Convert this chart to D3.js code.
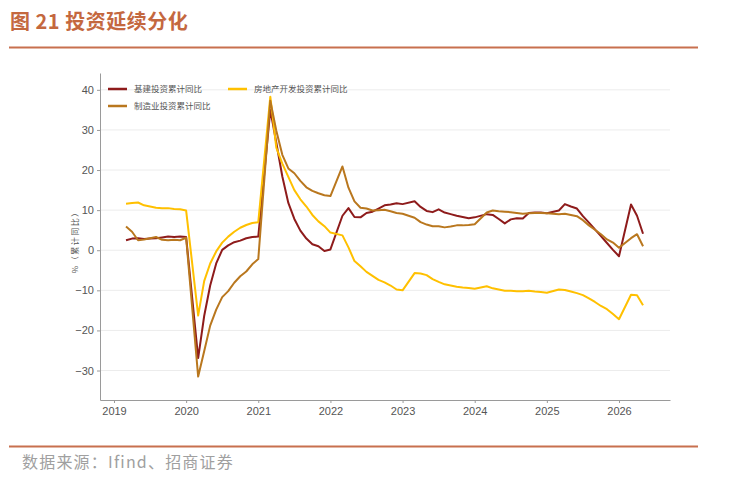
<!DOCTYPE html>
<html>
<head>
<meta charset="utf-8">
<script src="https://cdn.jsdelivr.net/npm/d3@7"></script>
<style>
  html, body { margin: 0; padding: 0; background: #fff; }
  svg { display: block; }
</style>
</head>
<body>
<div id="chart"></div>
<script>
// Monthly cumulative YoY (%), Jan-Feb reported together as Feb
const years = [2019, 2020, 2021, 2022, 2023, 2024, 2025, 2026];
const monthsByYear = [
  [2,3,4,5,6,7,8,9,10,11,12],
  [2,3,4,5,6,7,8,9,10,11,12],
  [2,3,4,5,6,7,8,9,10,11,12],
  [2,3,4,5,6,7,8,9,10,11,12],
  [2,3,4,5,6,7,8,9,10,11,12],
  [2,3,4,5,6,7,8,9,10,11,12],
  [2,3,4,5,6,7,8,9,10,11,12],
  [2,3,4]
];

// 基建投资累计同比
const infraValues = [
  2.5, 2.9, 3.0, 2.8, 2.9, 3.0, 3.2, 3.4, 3.3, 3.4, 3.3,
  -26.9, -16.4, -8.8, -3.3, 0.1, 1.2, 2.0, 2.4, 3.0, 3.3, 3.4,
  35.0, 26.8, 18.4, 11.8, 7.8, 4.9, 2.9, 1.5, 1.0, -0.2, 0.2,
  8.6, 10.5, 8.3, 8.2, 9.3, 9.6, 10.4, 11.2, 11.4, 11.7, 11.5,
  12.2, 10.8, 9.8, 9.5, 10.2, 9.4, 9.0, 8.6, 8.3, 8.0, 8.2,
  9.0, 8.8, 7.8, 6.7, 7.7, 8.0, 7.9, 9.3, 9.4, 9.4, 9.2,
  9.9, 11.5, 10.9, 10.4, 8.5, 6.9, 5.2, 3.5, 1.8, 0.1, -1.5,
  11.4, 8.6, 4.1
];

// 房地产开发投资累计同比
const estateValues = [
  11.6, 11.8, 11.9, 11.2, 10.9, 10.6, 10.5, 10.5, 10.3, 10.2, 9.9,
  -16.3, -7.7, -3.3, -0.3, 1.9, 3.4, 4.6, 5.6, 6.3, 6.8, 7.0,
  38.3, 25.6, 21.6, 18.3, 15.0, 12.7, 10.9, 8.8, 7.2, 6.0, 4.4,
  3.7, 0.7, -2.7, -4.0, -5.4, -6.4, -7.4, -8.0, -8.8, -9.8, -10.0,
  -5.7, -5.8, -6.2, -7.2, -7.9, -8.5, -8.8, -9.1, -9.3, -9.4, -9.6,
  -9.0, -9.5, -9.8, -10.1, -10.1, -10.2, -10.2, -10.1, -10.3, -10.4, -10.6,
  -9.8, -9.9, -10.3, -10.7, -11.2, -12.0, -12.9, -13.9, -14.7, -15.9, -17.2,
  -11.1, -11.2, -13.7
];

// 制造业投资累计同比
const mfgValues = [
  5.9, 4.6, 2.5, 2.7, 3.0, 3.3, 2.6, 2.5, 2.6, 2.5, 3.1,
  -31.5, -25.2, -18.8, -14.8, -11.7, -10.2, -8.1, -6.5, -5.3, -3.5, -2.2,
  37.3, 29.8, 23.8, 20.4, 19.2, 17.3, 15.7, 14.8, 14.2, 13.7, 13.5,
  20.9, 15.6, 12.2, 10.6, 10.4, 9.9, 10.0, 10.1, 9.7, 9.3, 9.1,
  8.1, 7.0, 6.4, 6.0, 6.0, 5.7, 5.9, 6.2, 6.2, 6.3, 6.5,
  9.4, 9.9, 9.7, 9.6, 9.5, 9.3, 9.1, 9.2, 9.3, 9.3, 9.2,
  9.0, 9.1, 8.8, 8.5, 7.5, 6.2, 5.1, 4.0, 2.7, 1.9, 0.6,
  3.0, 4.0, 1.0
];

const yTicks = [-30, -20, -10, 0, 10, 20, 30, 40];
const xTicks = [2019, 2020, 2021, 2022, 2023, 2024, 2025, 2026];

// month-end position in decimal years
const dates = [];
years.forEach((y, i) => monthsByYear[i].forEach(m => dates.push(y + m / 12)));

const series = [
  { name: '基建投资累计同比', values: infraValues, color: '#8E1B1B' },
  { name: '房地产开发投资累计同比', values: estateValues, color: '#FFC000' },
  { name: '制造业投资累计同比', values: mfgValues, color: '#B9771E' }
];

const width = 730;
const height = 478;
const plot = { left: 100, right: 670, top: 73, bottom: 400 };

const cjk = '"Noto Sans CJK SC", "Noto Sans", sans-serif';
const num = '"Liberation Sans Narrow", "Liberation Sans", Arial, sans-serif';

const svg = d3.select('#chart')
  .append('svg')
  .attr('width', width)
  .attr('height', height);

// Header
svg.append('text')
  .attr('x', 10)
  .attr('y', 29)
  .style('font-family', cjk)
  .style('font-size', '20px')
  .style('font-weight', 'bold')
  .style('fill', '#C4683F')
  .style('letter-spacing', '0.5px')
  .text('图 21 投资延续分化');

svg.append('line')
  .attr('x1', 9).attr('x2', 698)
  .attr('y1', 47.5).attr('y2', 47.5)
  .attr('stroke', '#C8704F')
  .attr('stroke-width', 2);

// Scales
const xScale = d3.scaleLinear()
  .domain([2018.806, 2026.707])
  .range([plot.left, plot.right]);

const yScale = d3.scaleLinear()
  .domain([-37.35, 44.2])
  .range([plot.bottom, plot.top]);

// Gridlines
svg.append('g')
  .selectAll('line')
  .data(yTicks)
  .enter()
  .append('line')
  .attr('x1', plot.left)
  .attr('x2', plot.right)
  .attr('y1', d => yScale(d))
  .attr('y2', d => yScale(d))
  .attr('stroke', '#ececec')
  .attr('stroke-width', 1);

// Axes
const yAxis = svg.append('g')
  .attr('transform', `translate(${plot.left},0)`)
  .call(d3.axisLeft(yScale).tickValues(yTicks).tickSize(3).tickSizeOuter(0).tickPadding(3));

const xAxis = svg.append('g')
  .attr('transform', `translate(0,${plot.bottom})`)
  .call(d3.axisBottom(xScale).tickValues(xTicks).tickFormat(d3.format('d')).tickSize(3).tickSizeOuter(0).tickPadding(4));

[yAxis, xAxis].forEach(ax => {
  ax.select('.domain').attr('stroke', '#9a9a9a');
  ax.selectAll('.tick line').attr('stroke', '#9a9a9a');
  ax.selectAll('.tick text')
    .style('font-family', num)
    .style('font-size', '11px')
    .style('fill', '#555');
});

// Y axis title
svg.append('text')
  .attr('transform', `translate(78,${yScale(2.5)}) rotate(-90)`)
  .attr('text-anchor', 'middle')
  .style('font-family', cjk)
  .style('font-size', '8px')
  .style('letter-spacing', '1.5px')
  .style('fill', '#555')
  .text('%（累计同比）');

// Lines
const line = d3.line()
  .x((d, i) => xScale(dates[i]))
  .y(d => yScale(d));

series.forEach(s => {
  svg.append('path')
    .datum(s.values)
    .attr('fill', 'none')
    .attr('stroke', s.color)
    .attr('stroke-width', 2)
    .attr('stroke-linejoin', 'round')
    .attr('d', line);
});

// Legend
const legendPos = [
  { x: 108, y: 89 },
  { x: 228, y: 89 },
  { x: 108, y: 106 }
];

series.forEach((s, i) => {
  const p = legendPos[i];
  svg.append('line')
    .attr('x1', p.x).attr('x2', p.x + 19)
    .attr('y1', p.y).attr('y2', p.y)
    .attr('stroke', s.color)
    .attr('stroke-width', 2.5);
  svg.append('text')
    .attr('x', p.x + 26)
    .attr('y', p.y)
    .attr('dy', '0.35em')
    .style('font-family', cjk)
    .style('font-size', '8.5px')
    .style('fill', '#555')
    .text(s.name);
});

// Footer
svg.append('line')
  .attr('x1', 9).attr('x2', 698)
  .attr('y1', 446.5).attr('y2', 446.5)
  .attr('stroke', '#C8704F')
  .attr('stroke-width', 2);

svg.append('text')
  .attr('x', 22)
  .attr('y', 468)
  .style('font-family', cjk)
  .style('font-size', '16px')
  .style('letter-spacing', '1.2px')
  .style('fill', '#a0a0a0')
  .text('数据来源：Ifind、招商证券');
</script>
</body>
</html>
